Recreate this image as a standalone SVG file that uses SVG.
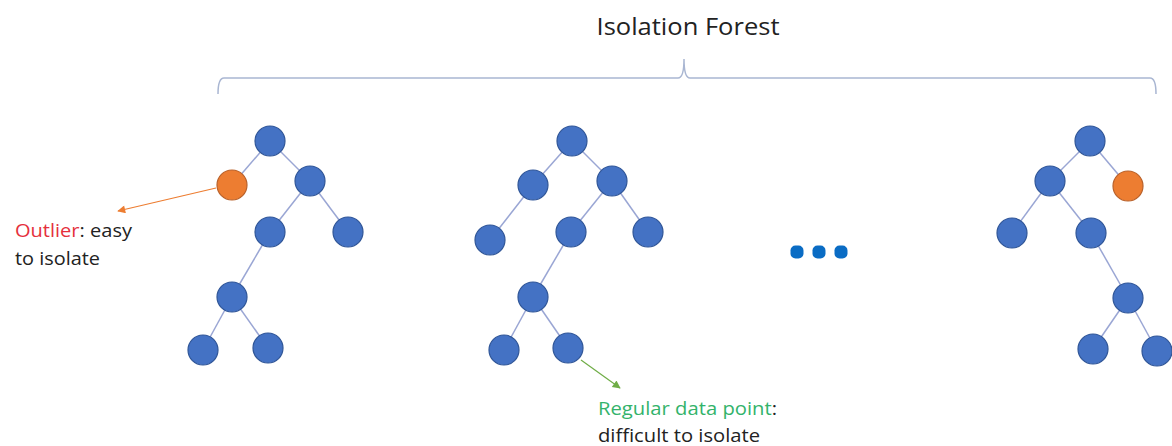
<svg xmlns="http://www.w3.org/2000/svg" width="1172" height="446" viewBox="0 0 1172 446">
<style>
.n{fill:#4472C4;stroke:#2F5597;stroke-width:1.2}
.o{fill:#ED7D31;stroke:#B9612A;stroke-width:1.2}
.e{stroke:#9AA6D4;stroke-width:1.5;fill:none}
.t{font-family:"Open Sans","Liberation Sans",Arial,sans-serif;fill:#222}
.d{fill:#0A6CC4}
</style>
<defs>
<marker id="ao" viewBox="0 0 10 10" refX="9" refY="5" markerWidth="10" markerHeight="8" markerUnits="userSpaceOnUse" orient="auto"><path d="M0,0 L10,5 L0,10 z" fill="#ED7D31"/></marker>
<marker id="ag" viewBox="0 0 10 10" refX="9" refY="5" markerWidth="10" markerHeight="8" markerUnits="userSpaceOnUse" orient="auto"><path d="M0,0 L10,5 L0,10 z" fill="#70AD47"/></marker>
</defs>
<text class="t" x="688" y="35" font-size="23" text-anchor="middle" textLength="183" lengthAdjust="spacingAndGlyphs">Isolation Forest</text>
<path id="brace" d="M218,94 Q218,78 224,78 L678,78 Q684,78 684,59 Q684,78 690,78 L1150,78 Q1156,78 1156,94" fill="none" stroke="#A9B6D2" stroke-width="1.5"/>
<g id="connectors">
<g class="e">
<line x1="270" y1="141" x2="232" y2="185"/>
<line x1="270" y1="141" x2="310" y2="181"/>
<line x1="310" y1="181" x2="270" y2="232"/>
<line x1="310" y1="181" x2="348" y2="232"/>
<line x1="270" y1="232" x2="232" y2="297"/>
<line x1="232" y1="297" x2="203" y2="350"/>
<line x1="232" y1="297" x2="268" y2="348"/>
<line x1="572" y1="141" x2="533" y2="185"/>
<line x1="572" y1="141" x2="612" y2="181"/>
<line x1="533" y1="185" x2="490" y2="240"/>
<line x1="612" y1="181" x2="571" y2="232"/>
<line x1="612" y1="181" x2="648" y2="232"/>
<line x1="571" y1="232" x2="533" y2="297"/>
<line x1="533" y1="297" x2="504" y2="350"/>
<line x1="533" y1="297" x2="568" y2="348"/>
<line x1="1090" y1="141" x2="1050" y2="181"/>
<line x1="1090" y1="141" x2="1128" y2="186"/>
<line x1="1050" y1="181" x2="1012" y2="233"/>
<line x1="1050" y1="181" x2="1091" y2="233"/>
<line x1="1091" y1="233" x2="1128" y2="298"/>
<line x1="1128" y1="298" x2="1093" y2="349"/>
<line x1="1128" y1="298" x2="1157" y2="351"/>
</g>
<line x1="216" y1="188" x2="118" y2="211" stroke="#ED7D31" stroke-width="1.2" marker-end="url(#ao)"/>
<line x1="581" y1="360" x2="620" y2="388" stroke="#70AD47" stroke-width="1.2" marker-end="url(#ag)"/>
</g>
<g id="tree1">
<circle id="t1n1" class="n" cx="270" cy="141" r="15"/>
<circle id="t1n2" class="o" cx="232" cy="185" r="15"/>
<circle id="t1n3" class="n" cx="310" cy="181" r="15"/>
<circle id="t1n4" class="n" cx="270" cy="232" r="15"/>
<circle id="t1n5" class="n" cx="348" cy="232" r="15"/>
<circle id="t1n6" class="n" cx="232" cy="297" r="15"/>
<circle id="t1n7" class="n" cx="203" cy="350" r="15"/>
<circle id="t1n8" class="n" cx="268" cy="348" r="15"/>
</g>
<g id="tree2">
<circle id="t2n1" class="n" cx="572" cy="141" r="15"/>
<circle id="t2n2" class="n" cx="533" cy="185" r="15"/>
<circle id="t2n3" class="n" cx="612" cy="181" r="15"/>
<circle id="t2n4" class="n" cx="490" cy="240" r="15"/>
<circle id="t2n5" class="n" cx="571" cy="232" r="15"/>
<circle id="t2n6" class="n" cx="648" cy="232" r="15"/>
<circle id="t2n7" class="n" cx="533" cy="297" r="15"/>
<circle id="t2n8" class="n" cx="504" cy="350" r="15"/>
<circle id="t2n9" class="n" cx="568" cy="348" r="15"/>
</g>
<g id="tree3">
<circle id="t3n1" class="n" cx="1090" cy="141" r="15"/>
<circle id="t3n2" class="n" cx="1050" cy="181" r="15"/>
<circle id="t3n3" class="o" cx="1128" cy="186" r="15"/>
<circle id="t3n4" class="n" cx="1012" cy="233" r="15"/>
<circle id="t3n5" class="n" cx="1091" cy="233" r="15"/>
<circle id="t3n6" class="n" cx="1128" cy="298" r="15"/>
<circle id="t3n7" class="n" cx="1093" cy="349" r="15"/>
<circle id="t3n8" class="n" cx="1157" cy="351" r="15"/>
</g>
<g id="ellipsis">
<rect class="d" x="790.5" y="245.5" width="13" height="13" rx="5"/>
<rect class="d" x="812.5" y="245.5" width="13" height="13" rx="5"/>
<rect class="d" x="834.5" y="245.5" width="13" height="13" rx="5"/>
</g>
<g id="outlier-label" class="t" font-size="19">
<text x="15" y="237" textLength="117" lengthAdjust="spacingAndGlyphs"><tspan fill="#E5303C">Outlier</tspan>: easy</text>
<text x="15" y="265" textLength="85" lengthAdjust="spacingAndGlyphs">to isolate</text>
</g>
<g id="regular-label" class="t" font-size="19">
<text x="598" y="415" textLength="179" lengthAdjust="spacingAndGlyphs"><tspan fill="#33B36B">Regular data point</tspan>:</text>
<text x="598" y="442" textLength="162" lengthAdjust="spacingAndGlyphs">difficult to isolate</text>
</g>
</svg>
